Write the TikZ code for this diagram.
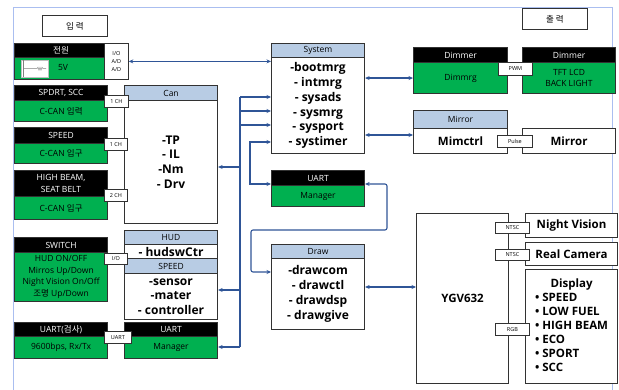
\documentclass[tikz,border=0pt]{standalone}
\usepackage{fontspec}
\setmainfont{Open Sans}
\newfontfamily\kr{Noto Sans CJK KR}
\usetikzlibrary{arrows.meta}

\definecolor{kgreen}{RGB}{0,176,80}
\definecolor{hdblue}{RGB}{184,204,228}
\definecolor{linkblue}{RGB}{47,85,151}
\definecolor{framebl}{RGB}{170,190,240}
\definecolor{boxgray}{RGB}{50,50,50}

\newcommand{\fsmall}{\fontsize{8.5}{11.5}\selectfont}
\newcommand{\fbig}{\bfseries\fontsize{12}{14.8}\selectfont}
\newcommand{\fmid}{\bfseries\fontsize{11.5}{15}\selectfont}
\newcommand{\ftag}{\fontsize{5.5}{8}\selectfont}

\tikzset{
  wh/.style 2 args={minimum width=#1pt, minimum height=#2pt},
  cell/.style={draw=boxgray, line width=1.1pt, inner sep=0pt, anchor=north west, align=center},
  blkhd/.style={cell, fill=black, text=white, font=\fsmall},
  grnbd/.style={cell, fill=kgreen, font=\fsmall},
  bluhd/.style={cell, fill=hdblue, font=\fsmall},
  whtbd/.style={cell, fill=white, font=\fbig},
  tagbox/.style={draw=boxgray, line width=0.8pt, fill=white, inner sep=0pt, anchor=north west, align=center, font=\ftag},
  ttlbox/.style={draw=boxgray, line width=1pt, inner sep=0pt, anchor=north west, font=\fsmall\kr},
  link/.style={draw=linkblue, line width=1.1pt, -{Stealth[length=4.5pt,width=4pt]}},
  dlink/.style={link, {Stealth[length=4.5pt,width=4pt]}-{Stealth[length=4.5pt,width=4pt]}},
}

\begin{document}
\begin{tikzpicture}[x=1pt,y=-1pt]
    \useasboundingbox (0,0) rectangle (619,390);
    \draw[framebl, line width=1pt] (13,390) -- (13,8) -- (612,8) -- (612,390);

    \node[ttlbox, wh={65}{21}] (inT) at (42,15) {입 력};
    \node[ttlbox, wh={65}{21}] (outT) at (522,8) {출 력};

    % inputs
    \node[blkhd, wh={93}{14}] (pwrH) at (14,43) {\kr 전원};
    \node[grnbd, wh={93}{22}] (pwrB) at (14,57) {};
    \node[draw=gray!50, fill=white, inner sep=0pt, anchor=north west, wh={27}{17}] (pwrImg) at (21,60) {};
    \draw[gray, line width=0.3pt] ([xshift=2pt]pwrImg.north west) -- ([xshift=2pt]pwrImg.south west);
    \draw[gray, line width=0.4pt] ([xshift=2pt]pwrImg.west) -- ++(14,0) -- ++(1,-1.5) -- ++(1,3) -- ++(1,-3) -- ++(1,3) -- ++(1,-3) -- ++(1,1.5) -- ++(3,0);
    \node[font=\fsmall, inner sep=0pt] (pwrV) at (63,68) {5V};

    \node[blkhd, wh={93}{15}] (sccH) at (14,85) {SPDRT, SCC};
    \node[grnbd, wh={93}{21}] (sccB) at (14,100) {C-CAN {\kr 입력}};

    \node[blkhd, wh={93}{16}] (spdH) at (14,127) {SPEED};
    \node[grnbd, wh={93}{20}] (spdB) at (14,143) {C-CAN {\kr 입구}};

    \node[blkhd, wh={93}{26}] (hbH) at (14,170) {HIGH BEAM,\\SEAT BELT};
    \node[grnbd, wh={93}{23}] (hbB) at (14,196) {C-CAN {\kr 입구}};

    \node[blkhd, wh={93}{15}] (swH) at (14,237) {SWITCH};
    \node[grnbd, wh={93}{49}] (swB) at (14,252) {HUD ON/OFF\\Mirros Up/Down\\Night Vision On/Off\\{\kr 조명} Up/Down};

    \node[blkhd, wh={93}{14}] (chkH) at (14,322) {UART({\kr 검사})};
    \node[grnbd, wh={93}{22}] (chkB) at (14,336) {9600bps, Rx/Tx};

    % can, hud, speed
    \node[bluhd, wh={93}{15}] (canH) at (124,85) {Can};
    \node[whtbd, wh={93}{123}] (canB) at (124,100) {-TP\\- IL\\-Nm\\- Drv};

    \node[bluhd, wh={93}{14}] (hudH) at (124,230) {HUD};
    \node[whtbd, wh={93}{14}] (hudB) at (124,244) {- hudswCtr};
    \node[bluhd, wh={93}{15}] (spH) at (124,258) {SPEED};
    \node[whtbd, wh={93}{46}] (spB) at (124,273) {-sensor\\-mater\\- controller};

    \node[blkhd, wh={93}{14}] (umH) at (124,322) {UART};
    \node[grnbd, wh={93}{22}] (umB) at (124,336) {Manager};

    % system, uart, draw
    \node[bluhd, wh={93}{14}] (sysH) at (271,43) {System};
    \node[whtbd, wh={93}{96}] (sysB) at (271,57) {-bootmrg\\- intmrg\\- sysads\\- sysmrg\\- sysport\\- systimer};

    \node[blkhd, wh={93}{15}] (uaH) at (271,170) {UART};
    \node[grnbd, wh={93}{21}] (uaB) at (271,185) {Manager};

    \node[bluhd, wh={93}{14}] (drwH) at (271,244) {Draw};
    \node[whtbd, wh={93}{71}] (drwB) at (271,258) {-drawcom\\- drawctl\\- drawdsp\\- drawgive};

    % outputs
    \node[blkhd, wh={94}{15}] (dimH) at (413,47) {Dimmer};
    \node[grnbd, wh={94}{31}] (dimB) at (413,62) {Dimmrg};
    \node[blkhd, wh={93}{15}] (bkH) at (522,47) {Dimmer};
    \node[grnbd, wh={93}{31}] (bkB) at (522,62) {TFT LCD\\BACK LIGHT};

    \node[bluhd, wh={94}{18}] (mirH) at (413,110) {Mirror};
    \node[whtbd, wh={94}{25}, font=\fmid] (mirB) at (413,128) {Mimctrl};
    \node[whtbd, wh={93}{25}, font=\fmid] (mirR) at (522,128) {Mirror};

    \node[whtbd, wh={92}{170}, font=\fmid] (ygv) at (416,213) {YGV632};
    \node[whtbd, wh={92}{24}, font=\fmid] (nvB) at (525,213) {Night Vision};
    \node[whtbd, wh={92}{23}, font=\fmid] (rcB) at (525,242) {Real Camera};
    \node[whtbd, wh={92}{114}, font=\fmid] (dspB) at (525,269) {\begin{tabular}{@{}l@{}}\multicolumn{1}{@{}c@{}}{Display}\\[-1pt]
      • SPEED\\[-1pt] • LOW FUEL\\[-1pt] • HIGH BEAM\\[-1pt] • ECO\\[-1pt] • SPORT\\[-1pt] • SCC\end{tabular}};

    % tags
    \node[tagbox, wh={24}{36}] (pwrTag) at (104,43) {I/O\\A/D\\A/D};
    \node[tagbox, wh={24}{12}] (sccTag) at (104,95) {1 CH};
    \node[tagbox, wh={23}{12}] (spdTag) at (104,138) {1 CH};
    \node[tagbox, wh={23}{12}] (hbTag) at (104,189) {2 CH};
    \node[tagbox, wh={23}{11}] (swTag) at (104,253) {I/O};
    \node[tagbox, wh={27}{12}] (chkTag) at (104,331) {UART};
    \node[tagbox, wh={34}{13}] (pwmTag) at (498,62) {PWM};
    \node[tagbox, wh={35}{12}] (plsTag) at (497,135) {Pulse};
    \node[tagbox, wh={34}{11}] (nvTag) at (495,222) {NTSC};
    \node[tagbox, wh={34}{11}] (rcTag) at (495,249) {NTSC};
    \node[tagbox, wh={34}{12}] (rgbTag) at (495,323) {RGB};

    % links
    \draw[dlink] (pwrTag.east) -- (pwrTag.east -| sysB.west);

    \coordinate (b1) at (240,97);
    \coordinate (b2) at (240,111);
    \coordinate (b3) at (240,125);
    \coordinate (b4) at (240,167);
    \coordinate (b5) at (240,290);
    \coordinate (b6) at (240,347);
    \draw[linkblue, line width=1.1pt] (b1) -- (b6);
    \foreach \p in {b1,b2,b3}
        \draw[link] (\p) -- (\p -| sysB.west);
    \draw[link] (b4) -- (b4 -| canB.east);
    \draw[link] (b5) -- (b5 -| spB.east);
    \draw[link] (b6) -- (b6 -| umB.east);

    \coordinate (l1) at (250,142);
    \coordinate (l2) at (250,184);
    \draw[dlink] (l1 -| sysB.west) -- (l1) -- (l2) -- (l2 -| uaH.west);

    \coordinate (r1) at (387,184);
    \coordinate (r2) at (387,230);
    \coordinate (r3) at (251,230);
    \coordinate (r4) at (251,272);
    \draw[dlink, rounded corners=2pt] (r1 -| uaH.east) -- (r1) -- (r2) -- (r3) -- (r4) -- (r4 -| drwB.west);

    \draw[dlink] (dimB.west -| sysB.east) -- (dimB.west);
    \coordinate (mr) at (390,135);
    \draw[dlink] (mr -| sysB.east) -- (mr -| mirB.west);
    \coordinate (yg) at (390,287);
    \draw[dlink] (yg -| drwB.east) -- (yg -| ygv.west);
\end{tikzpicture}
\end{document}
